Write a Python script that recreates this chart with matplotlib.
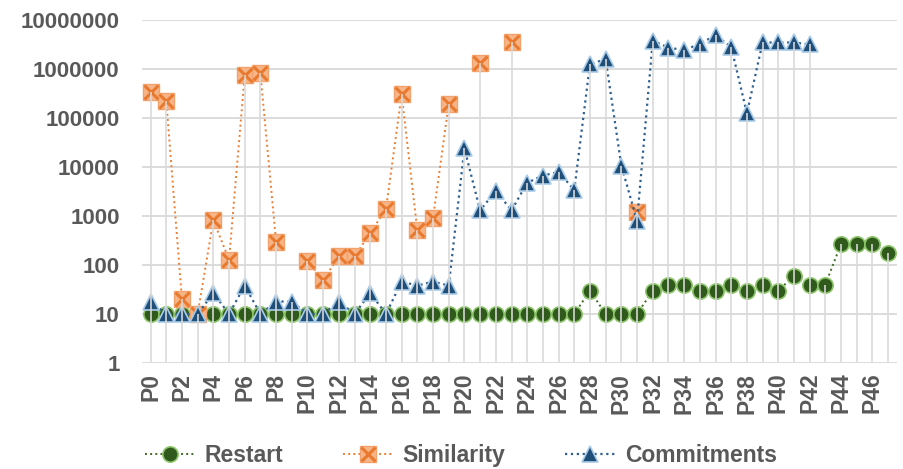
import numpy as np
import matplotlib
matplotlib.use("Agg")
import matplotlib.pyplot as plt

nan = np.nan

labels = ["P%d" % i for i in range(48)]

restart = [10, 10, 10, 10, 10, 10, 10, 10, 10, 10,
           10, 10, 10, 10, 10, 10, 10, 10, 10, 10,
           10, 10, 10, 10, 10, 10, 10, 10, 30, 10,
           10, 10, 30, 40, 40, 30, 30, 40, 30, 40,
           30, 60, 40, 40, 270, 270, 270, 175]

similarity = [335000, 226000, 20, 10, 830, 128, 755000, 815000, 300, nan,
              120, 50, 150, 150, 450, 1400, 305000, 510, 920, 193000,
              nan, 1310000, nan, 3500000, nan, nan, nan, nan, nan, nan,
              nan, 1200, nan, nan, nan, nan, nan, nan, nan, nan,
              nan, nan, nan, nan, nan, nan, nan, nan]

commitments = [18, 10, 10, 10, 27, 10, 38, 10, 18, 18,
               10, 10, 18, 10, 27, 10, 46, 38, 46, 38,
               24000, 1300, 3300, 1300, 4800, 6700, 8000, 3400, 1270000, 1600000,
               10700, 800, 3800000, 2760000, 2440000, 3300000, 4900000, 2850000, 125000, 3500000,
               3500000, 3500000, 3200000, nan, nan, nan, nan, nan]

x = np.arange(len(labels))
txt = "#595959"
grid = "#d9d9d9"

plt.rcParams['font.family'] = ['Liberation Sans', 'DejaVu Sans']

fig = plt.figure(figsize=(9.04, 4.69), dpi=100)
ax = fig.add_axes([0.157, 0.226, 0.835, 0.731])

# restart
l1, = ax.plot(x, restart, linestyle=":", color="#3d6b24", lw=1.4,
              marker="o", markersize=11, markerfacecolor="#2f5a1b",
              markeredgecolor="#8cc46a", markeredgewidth=1.2, zorder=3)

# similarity: square with an x on top
l2, = ax.plot(x, similarity, linestyle=":", color="#ed7d31", lw=1.4,
              marker="s", markersize=12, markerfacecolor="#f7b487",
              markeredgecolor="#f2a26c", markeredgewidth=1.0, zorder=3)
l2x, = ax.plot(x, similarity, linestyle="none", marker="x", markersize=10,
               markeredgecolor="#e8792e", markeredgewidth=2.2, zorder=3.1)

# commitments
l3, = ax.plot(x, commitments, linestyle=":", color="#2e5f8f", lw=1.6,
              marker="^", markersize=11, markerfacecolor="#1f4e79",
              markeredgecolor="#a9cbe8", markeredgewidth=1.2, zorder=3.2)

# drop lines from the highest point of each category down to the axis
top = np.nanmax(np.vstack([restart, similarity, commitments]), axis=0)
ax.vlines(x, 1, top, colors=grid, lw=1.3, zorder=5, alpha=0.9)

ax.set_yscale("log")
ax.set_ylim(1, 1e7)
ax.set_xlim(-0.55, 47.55)
ax.set_yticks([10 ** k for k in range(8)])
ax.set_yticklabels([str(10 ** k) for k in range(8)])
ax.yaxis.set_minor_locator(matplotlib.ticker.NullLocator())
ax.set_xticks(x[::2])
ax.set_xticklabels(labels[::2], rotation=90)

for lab in ax.get_yticklabels():
    lab.set_fontsize(16)
    lab.set_fontweight("bold")
    lab.set_color(txt)
for lab in ax.get_xticklabels():
    lab.set_fontsize(16.5)
    lab.set_fontweight("bold")
    lab.set_color(txt)

ax.tick_params(axis="both", length=0)
ax.tick_params(axis="y", pad=16)
ax.tick_params(axis="x", pad=7)
ax.grid(axis="y", color=grid, lw=1.3, zorder=0)
ax.set_axisbelow(True)
for s in ax.spines.values():
    s.set_visible(False)

leg = fig.legend([l1, (l2, l2x), l3], ["Restart", "Similarity", "Commitments"],
                 loc="center", bbox_to_anchor=(0.51, 0.028), ncol=3, frameon=False,
                 handlelength=2.2, columnspacing=2.6, handletextpad=0.4,
                 prop={"size": 16.5, "weight": "bold"})
for t in leg.get_texts():
    t.set_color(txt)

fig.savefig("out.png", dpi=100)
